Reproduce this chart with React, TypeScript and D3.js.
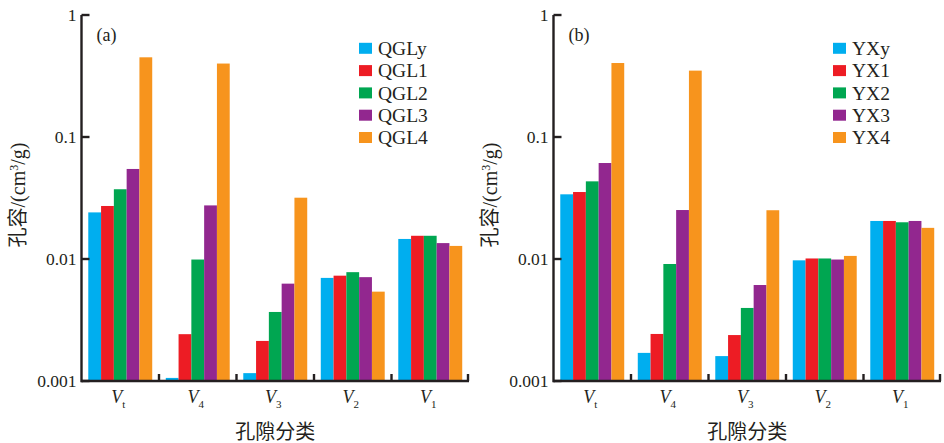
import React from 'react';
import * as d3 from 'd3';

// pore classes on the x axis
const categories = ['Vt', 'V4', 'V3', 'V2', 'V1'];
const catMain = ['V', 'V', 'V', 'V', 'V'];
const catSub = ['t', '4', '3', '2', '1'];

const seriesA = ['QGLy', 'QGL1', 'QGL2', 'QGL3', 'QGL4'];
const seriesB = ['YXy', 'YX1', 'YX2', 'YX3', 'YX4'];

// values per series, in category order (Vt, V4, V3, V2, V1), cm3/g
const qgly = [0.0241, 0.00106, 0.00116, 0.0070, 0.0146];
const qgl1 = [0.0272, 0.00242, 0.00213, 0.0073, 0.0155];
const qgl2 = [0.0373, 0.0099, 0.00368, 0.0078, 0.0155];
const qgl3 = [0.0547, 0.0275, 0.00628, 0.0071, 0.0135];
const qgl4 = [0.45, 0.40, 0.0318, 0.0054, 0.0128];

const yxy = [0.0339, 0.0017, 0.0016, 0.00975, 0.0205];
const yx1 = [0.0354, 0.00243, 0.00238, 0.0101, 0.0205];
const yx2 = [0.0433, 0.0091, 0.00397, 0.0101, 0.0200];
const yx3 = [0.0612, 0.0252, 0.00612, 0.0099, 0.0205];
const yx4 = [0.404, 0.35, 0.0251, 0.0106, 0.0180];

const yTicks = [0.001, 0.01, 0.1, 1];
const yTickLabels = ['0.001', '0.01', '0.1', '1'];

const colors = ['#00aeef', '#ed1c24', '#00a651', '#92278f', '#f7941d'];
const ink = '#231f20';
const latin = '"Liberation Serif", "Times New Roman", serif';
const mixed = '"Liberation Serif", "Noto Sans CJK SC", serif';

type PanelProps = {
  x0: number;
  x1: number;
  tag: string;
  names: string[];
  values: number[][];
  legendX: number;
};

const Panel = ({ x0, x1, tag, names, values, legendX }: PanelProps) => {
  const y = d3.scaleLog().domain([0.001, 1]).range([381, 15]);
  const x = d3.scaleBand().domain(categories).range([x0, x1]);
  const inner = d3.scaleBand().domain(names).range([0, x.bandwidth()]).paddingOuter(0.53);
  const base = y(0.001);

  return (
    <g>
      {/* bars */}
      {names.map((n, si) =>
        categories.map((c, ci) => {
          const v = values[si][ci];
          const top = y(v);
          return (
            <rect
              key={n + c}
              x={(x(c) as number) + (inner(n) as number)}
              y={top}
              width={inner.bandwidth()}
              height={base - top}
              fill={colors[si]}
            />
          );
        })
      )}

      {/* axes */}
      <line x1={x0} x2={x0} y1={y(1)} y2={base + 1.2} stroke={ink} strokeWidth={2.4} />
      <line x1={x0} x2={x1} y1={base} y2={base} stroke={ink} strokeWidth={2.4} />
      {yTicks.map((t, i) => (
        <g key={t}>
          <line x1={x0} x2={x0 + 8} y1={y(t)} y2={y(t)} stroke={ink} strokeWidth={2.4} />
          <text
            x={x0 - 5}
            y={y(t)}
            dy="0.35em"
            textAnchor="end"
            fontFamily={latin}
            fontSize={17.5}
            fill={ink}
          >
            {yTickLabels[i]}
          </text>
        </g>
      ))}
      {categories.slice(1).map((c) => (
        <line key={c} x1={x(c)} x2={x(c)} y1={base} y2={base - 7} stroke={ink} strokeWidth={2.4} />
      ))}
      <line x1={x1 - 1} x2={x1 - 1} y1={base} y2={base - 7} stroke={ink} strokeWidth={2.4} />

      {/* category labels */}
      {categories.map((c, i) => (
        <text
          key={c}
          x={(x(c) as number) + x.bandwidth() / 2 - 2}
          y={403}
          textAnchor="middle"
          fontFamily={latin}
          fill={ink}
        >
          <tspan fontStyle="italic" fontSize={18}>{catMain[i]}</tspan>
          <tspan fontSize={11} dy={5}>{catSub[i]}</tspan>
        </text>
      ))}

      {/* axis titles */}
      <text
        x={(x0 + x1) / 2}
        y={439}
        textAnchor="middle"
        fontFamily={mixed}
        fontSize={20}
        fill={ink}
      >
        孔隙分类
      </text>
      <text
        transform={`translate(${x0 - 64},195) rotate(-90)`}
        textAnchor="middle"
        dy="0.35em"
        fontFamily={mixed}
        fontSize={20}
        fill={ink}
      >
        孔容/(cm<tspan fontSize={12} dy={-7}>3</tspan>
        <tspan dy={7}>/g)</tspan>
      </text>

      <text x={x0 + 15} y={35} dy="0.35em" fontFamily={latin} fontSize={18} fill={ink}>
        {tag}
      </text>

      {/* legend */}
      {names.map((n, i) => (
        <g key={n} transform={`translate(${legendX},${48.3 + i * 22.3})`}>
          <rect x={0} y={-5.5} width={13} height={11} fill={colors[i]} />
          <text x={19} y={0} dy="0.35em" fontFamily={latin} fontSize={19.5} fill={ink}>
            {n}
          </text>
        </g>
      ))}
    </g>
  );
};

export default function App() {
  return (
    <svg width={944} height={443} style={{ position: 'absolute', left: 0, top: 0, background: '#fff' }}>
      <rect width={944} height={443} fill="#fff" />
      <Panel
        x0={81.5}
        x1={469}
        tag="(a)"
        names={seriesA}
        values={[qgly, qgl1, qgl2, qgl3, qgl4]}
        legendX={359}
      />
      <Panel
        x0={553.5}
        x1={941}
        tag="(b)"
        names={seriesB}
        values={[yxy, yx1, yx2, yx3, yx4]}
        legendX={833}
      />
    </svg>
  );
}
